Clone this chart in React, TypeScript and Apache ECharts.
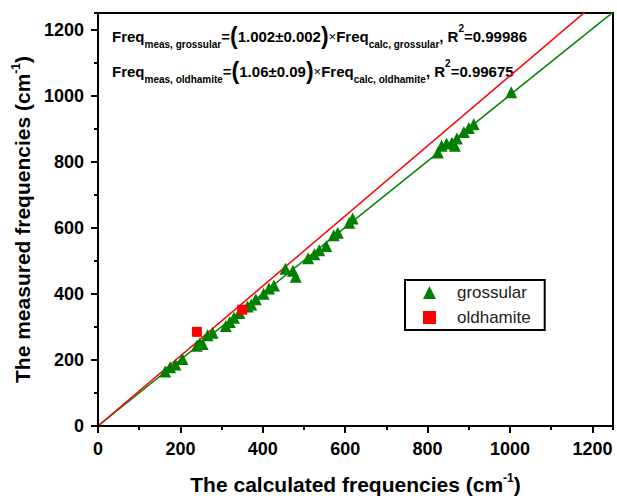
import React, { useEffect, useRef } from "react";
import * as echarts from "echarts";

const grossularCalc = [163, 175, 188, 205, 240, 247, 254, 266, 278, 310, 320, 330, 343, 363, 372, 383, 402, 415, 427, 455, 473, 480, 510, 525, 537, 554, 572, 582, 610, 618, 825, 834, 846, 859, 866, 871, 888, 900, 912, 1003];
const grossularMeas = [165, 178, 186, 203, 243, 250, 248, 275, 282, 303, 315, 328, 342, 362, 368, 384, 400, 416, 425, 476, 470, 452, 508, 520, 532, 545, 577, 585, 615, 628, 828, 848, 855, 857, 848, 870, 890, 902, 913, 1010];
const oldhamiteCalc = [240, 350];
const oldhamiteMeas = [285, 352];

const slopeGrossular = 1.002;
const slopeOldhamite = 1.06;

const axisMin = 0;
const axisMax = 1250;
const majorInterval = 200;
const minorInterval = 100;

const FONT = "'Liberation Sans', Arial, sans-serif";

export default function App() {
  const ref = useRef<HTMLDivElement>(null);
  useEffect(() => {
    if (!ref.current) return;
    const chart = echarts.init(ref.current, undefined, { renderer: "svg" });
    const grossular = grossularCalc.map((x, i) => [x, grossularMeas[i]]);
    const oldhamite = oldhamiteCalc.map((x, i) => [x, oldhamiteMeas[i]]);
    const fitG = [[axisMin, slopeGrossular * axisMin], [axisMax, slopeGrossular * axisMax]];
    const fitO = [[axisMin, slopeOldhamite * axisMin], [axisMax, slopeOldhamite * axisMax]];

    const rich = {
      b: { fontFamily: FONT, fontWeight: "bold", fontSize: 15, color: "#111", lineHeight: 15 },
      sub: { fontFamily: FONT, fontWeight: "bold", fontSize: 10, color: "#111", lineHeight: 12, verticalAlign: "bottom" },
      sup: { fontFamily: FONT, fontWeight: "bold", fontSize: 10, color: "#111", lineHeight: 12, verticalAlign: "top" },
      p: { fontFamily: FONT, fontWeight: "bold", fontSize: 23, color: "#111", lineHeight: 26 },
      x: { fontFamily: FONT, fontWeight: "normal", fontSize: 13, color: "#111", lineHeight: 15 },
    };

    const line1 = "{b|Freq}{sub|meas, grossular}{b|=}{p|(}{b|1.002±0.002}{p|)}{x|×}{b|Freq}{sub|calc, grossular}{b|, R}{sup|2}{b|=0.99986}";
    const line2 = "{b|Freq}{sub|meas, oldhamite}{b|=}{p|(}{b|1.06±0.09}{p|)}{x|×}{b|Freq}{sub|calc, oldhamite}{b|, R}{sup|2}{b|=0.99675}";

    const nameRich = {
      t: { fontFamily: FONT, fontWeight: "bold", fontSize: 21, color: "#000", lineHeight: 25 },
      s: { fontFamily: FONT, fontWeight: "bold", fontSize: 12, color: "#000", lineHeight: 12, verticalAlign: "top" },
    };

    const labelStyle = { fontFamily: FONT, fontWeight: "bold", fontSize: 18, color: "#000" };

    const mkAxis = (name: string, gap: number) => ({
      type: "value",
      min: axisMin,
      max: axisMax,
      interval: majorInterval,
      name,
      nameLocation: "middle",
      nameGap: gap,
      nameTextStyle: { rich: nameRich },
      axisLine: { show: true, onZero: false, lineStyle: { color: "#000", width: 2 } },
      axisTick: { show: true, length: 7, lineStyle: { color: "#000", width: 2 } },
      minorTick: { show: false },
      axisLabel: { ...labelStyle, margin: 14, showMaxLabel: false, formatter: (v: number) => String(v) },
      splitLine: { show: false },
      minorSplitLine: { show: false },
      z: 3,
    });
    const mkMinorAxis = () => ({
      type: "value",
      min: axisMin,
      max: axisMax,
      interval: minorInterval,
      axisLine: { show: false, onZero: false },
      axisTick: { show: true, length: 4, lineStyle: { color: "#000", width: 2 } },
      minorTick: { show: false },
      axisLabel: { show: false },
      splitLine: { show: false },
      z: 2,
    });

    chart.setOption({
      animation: false,
      backgroundColor: "#fff",
      grid: { left: 98, top: 13, width: 515, height: 417, show: true, borderColor: "#000", borderWidth: 2, backgroundColor: "transparent" },
      xAxis: [
        { ...mkAxis("{t|The calculated frequencies (cm}{s|-1}{t|)}", 46), position: "bottom" },
        { ...mkMinorAxis(), position: "bottom" },
      ],
      yAxis: [
        { ...mkAxis("{t|The measured frequencies (cm}{s|-1}{t|)}", 56), position: "left" },
        { ...mkMinorAxis(), position: "left" },
      ],
      legend: {
        left: 405,
        top: 280,
        orient: "vertical",
        data: ["grossular", "oldhamite"],
        borderColor: "#000",
        borderWidth: 2,
        borderRadius: 0,
        padding: [4, 14, 4, 18],
        itemGap: 8,
        itemWidth: 13,
        itemHeight: 13,
        textStyle: { fontFamily: FONT, fontSize: 17, color: "#222", padding: [0, 0, 0, 16] },
      },
      graphic: [
        { type: "text", left: 112, top: 23, style: { text: line1, rich } },
        { type: "text", left: 112, top: 58, style: { text: line2, rich } },
      ],
      series: [
        {
          name: "fitG",
          type: "line",
          data: fitG,
          showSymbol: false,
          symbol: "none",
          silent: true,
          clip: true,
          lineStyle: { color: "#008000", width: 1.5 },
          z: 1,
        },
        {
          name: "fitO",
          type: "line",
          data: fitO,
          showSymbol: false,
          symbol: "none",
          silent: true,
          clip: true,
          lineStyle: { color: "#ff0000", width: 1.5 },
          z: 1,
        },
        {
          name: "grossular",
          type: "scatter",
          data: grossular,
          symbol: "triangle",
          symbolSize: 12,
          itemStyle: { color: "#008000", opacity: 1 },
          z: 3,
        },
        {
          name: "oldhamite",
          type: "scatter",
          data: oldhamite,
          symbol: "rect",
          symbolSize: 10,
          itemStyle: { color: "#ff0000", opacity: 1 },
          z: 3,
        },
      ],
    });
    return () => chart.dispose();
  }, []);
  return <div ref={ref} style={{ position: "fixed", left: 0, top: 0, width: 617, height: 500 }} />;
}
